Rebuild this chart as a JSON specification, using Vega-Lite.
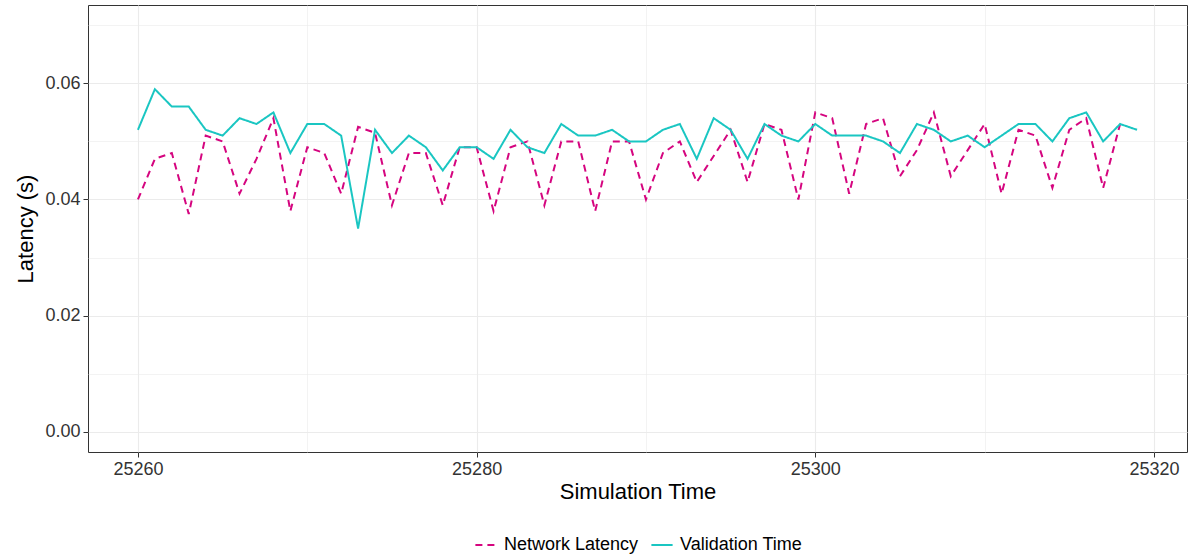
{
  "$schema": "https://vega.github.io/schema/vega-lite/v6.json",
  "width": 1099,
  "height": 447,
  "autosize": {"type": "none"},
  "padding": {"left": 88, "top": 5, "right": 2, "bottom": 104},
  "background": "white",
  "config": {
    "view": {"stroke": "#333333", "strokeWidth": 1},
    "font": "Liberation Sans",
    "axis": {
      "labelFont": "Liberation Sans",
      "titleFont": "Liberation Sans",
      "labelFontSize": 18,
      "labelColor": "#333333",
      "titleFontSize": 22,
      "titleFontWeight": "normal",
      "titleColor": "#000000",
      "domain": false,
      "tickSize": 5,
      "tickWidth": 1,
      "gridColor": "#EBEBEB"
    }
  },
  "data": {
    "values": [
      {"t": 25260, "series": "Network Latency", "v": 0.040},
      {"t": 25261, "series": "Network Latency", "v": 0.047},
      {"t": 25262, "series": "Network Latency", "v": 0.048},
      {"t": 25263, "series": "Network Latency", "v": 0.0375},
      {"t": 25264, "series": "Network Latency", "v": 0.051},
      {"t": 25265, "series": "Network Latency", "v": 0.050},
      {"t": 25266, "series": "Network Latency", "v": 0.041},
      {"t": 25267, "series": "Network Latency", "v": 0.047},
      {"t": 25268, "series": "Network Latency", "v": 0.054},
      {"t": 25269, "series": "Network Latency", "v": 0.038},
      {"t": 25270, "series": "Network Latency", "v": 0.049},
      {"t": 25271, "series": "Network Latency", "v": 0.048},
      {"t": 25272, "series": "Network Latency", "v": 0.041},
      {"t": 25273, "series": "Network Latency", "v": 0.0525},
      {"t": 25274, "series": "Network Latency", "v": 0.0515},
      {"t": 25275, "series": "Network Latency", "v": 0.039},
      {"t": 25276, "series": "Network Latency", "v": 0.048},
      {"t": 25277, "series": "Network Latency", "v": 0.048},
      {"t": 25278, "series": "Network Latency", "v": 0.039},
      {"t": 25279, "series": "Network Latency", "v": 0.049},
      {"t": 25280, "series": "Network Latency", "v": 0.049},
      {"t": 25281, "series": "Network Latency", "v": 0.038},
      {"t": 25282, "series": "Network Latency", "v": 0.049},
      {"t": 25283, "series": "Network Latency", "v": 0.050},
      {"t": 25284, "series": "Network Latency", "v": 0.039},
      {"t": 25285, "series": "Network Latency", "v": 0.050},
      {"t": 25286, "series": "Network Latency", "v": 0.050},
      {"t": 25287, "series": "Network Latency", "v": 0.038},
      {"t": 25288, "series": "Network Latency", "v": 0.050},
      {"t": 25289, "series": "Network Latency", "v": 0.050},
      {"t": 25290, "series": "Network Latency", "v": 0.040},
      {"t": 25291, "series": "Network Latency", "v": 0.048},
      {"t": 25292, "series": "Network Latency", "v": 0.050},
      {"t": 25293, "series": "Network Latency", "v": 0.043},
      {"t": 25294, "series": "Network Latency", "v": 0.0475},
      {"t": 25295, "series": "Network Latency", "v": 0.052},
      {"t": 25296, "series": "Network Latency", "v": 0.043},
      {"t": 25297, "series": "Network Latency", "v": 0.053},
      {"t": 25298, "series": "Network Latency", "v": 0.052},
      {"t": 25299, "series": "Network Latency", "v": 0.040},
      {"t": 25300, "series": "Network Latency", "v": 0.055},
      {"t": 25301, "series": "Network Latency", "v": 0.054},
      {"t": 25302, "series": "Network Latency", "v": 0.041},
      {"t": 25303, "series": "Network Latency", "v": 0.053},
      {"t": 25304, "series": "Network Latency", "v": 0.054},
      {"t": 25305, "series": "Network Latency", "v": 0.044},
      {"t": 25306, "series": "Network Latency", "v": 0.0485},
      {"t": 25307, "series": "Network Latency", "v": 0.055},
      {"t": 25308, "series": "Network Latency", "v": 0.044},
      {"t": 25309, "series": "Network Latency", "v": 0.0485},
      {"t": 25310, "series": "Network Latency", "v": 0.053},
      {"t": 25311, "series": "Network Latency", "v": 0.041},
      {"t": 25312, "series": "Network Latency", "v": 0.052},
      {"t": 25313, "series": "Network Latency", "v": 0.051},
      {"t": 25314, "series": "Network Latency", "v": 0.042},
      {"t": 25315, "series": "Network Latency", "v": 0.052},
      {"t": 25316, "series": "Network Latency", "v": 0.054},
      {"t": 25317, "series": "Network Latency", "v": 0.042},
      {"t": 25318, "series": "Network Latency", "v": 0.053},
      {"t": 25260, "series": "Validation Time", "v": 0.052},
      {"t": 25261, "series": "Validation Time", "v": 0.059},
      {"t": 25262, "series": "Validation Time", "v": 0.056},
      {"t": 25263, "series": "Validation Time", "v": 0.056},
      {"t": 25264, "series": "Validation Time", "v": 0.052},
      {"t": 25265, "series": "Validation Time", "v": 0.051},
      {"t": 25266, "series": "Validation Time", "v": 0.054},
      {"t": 25267, "series": "Validation Time", "v": 0.053},
      {"t": 25268, "series": "Validation Time", "v": 0.055},
      {"t": 25269, "series": "Validation Time", "v": 0.048},
      {"t": 25270, "series": "Validation Time", "v": 0.053},
      {"t": 25271, "series": "Validation Time", "v": 0.053},
      {"t": 25272, "series": "Validation Time", "v": 0.051},
      {"t": 25273, "series": "Validation Time", "v": 0.035},
      {"t": 25274, "series": "Validation Time", "v": 0.052},
      {"t": 25275, "series": "Validation Time", "v": 0.048},
      {"t": 25276, "series": "Validation Time", "v": 0.051},
      {"t": 25277, "series": "Validation Time", "v": 0.049},
      {"t": 25278, "series": "Validation Time", "v": 0.045},
      {"t": 25279, "series": "Validation Time", "v": 0.049},
      {"t": 25280, "series": "Validation Time", "v": 0.049},
      {"t": 25281, "series": "Validation Time", "v": 0.047},
      {"t": 25282, "series": "Validation Time", "v": 0.052},
      {"t": 25283, "series": "Validation Time", "v": 0.049},
      {"t": 25284, "series": "Validation Time", "v": 0.048},
      {"t": 25285, "series": "Validation Time", "v": 0.053},
      {"t": 25286, "series": "Validation Time", "v": 0.051},
      {"t": 25287, "series": "Validation Time", "v": 0.051},
      {"t": 25288, "series": "Validation Time", "v": 0.052},
      {"t": 25289, "series": "Validation Time", "v": 0.050},
      {"t": 25290, "series": "Validation Time", "v": 0.050},
      {"t": 25291, "series": "Validation Time", "v": 0.052},
      {"t": 25292, "series": "Validation Time", "v": 0.053},
      {"t": 25293, "series": "Validation Time", "v": 0.047},
      {"t": 25294, "series": "Validation Time", "v": 0.054},
      {"t": 25295, "series": "Validation Time", "v": 0.052},
      {"t": 25296, "series": "Validation Time", "v": 0.047},
      {"t": 25297, "series": "Validation Time", "v": 0.053},
      {"t": 25298, "series": "Validation Time", "v": 0.051},
      {"t": 25299, "series": "Validation Time", "v": 0.050},
      {"t": 25300, "series": "Validation Time", "v": 0.053},
      {"t": 25301, "series": "Validation Time", "v": 0.051},
      {"t": 25302, "series": "Validation Time", "v": 0.051},
      {"t": 25303, "series": "Validation Time", "v": 0.051},
      {"t": 25304, "series": "Validation Time", "v": 0.050},
      {"t": 25305, "series": "Validation Time", "v": 0.048},
      {"t": 25306, "series": "Validation Time", "v": 0.053},
      {"t": 25307, "series": "Validation Time", "v": 0.052},
      {"t": 25308, "series": "Validation Time", "v": 0.050},
      {"t": 25309, "series": "Validation Time", "v": 0.051},
      {"t": 25310, "series": "Validation Time", "v": 0.049},
      {"t": 25311, "series": "Validation Time", "v": 0.051},
      {"t": 25312, "series": "Validation Time", "v": 0.053},
      {"t": 25313, "series": "Validation Time", "v": 0.053},
      {"t": 25314, "series": "Validation Time", "v": 0.050},
      {"t": 25315, "series": "Validation Time", "v": 0.054},
      {"t": 25316, "series": "Validation Time", "v": 0.055},
      {"t": 25317, "series": "Validation Time", "v": 0.050},
      {"t": 25318, "series": "Validation Time", "v": 0.053},
      {"t": 25319, "series": "Validation Time", "v": 0.052}
    ]
  },
  "mark": {"type": "line", "strokeWidth": 2, "clip": true},
  "encoding": {
    "x": {
      "field": "t",
      "type": "quantitative",
      "scale": {"domain": [25257.05, 25321.95], "nice": false, "zero": false},
      "axis": {
        "title": "Simulation Time",
        "values": [25260, 25270, 25280, 25290, 25300, 25310, 25320],
        "labelExpr": "datum.value % 20 === 0 ? datum.value : ''",
        "tickColor": {"condition": {"test": "datum.value % 20 === 0", "value": "#333333"}, "value": "transparent"},
        "gridWidth": {"condition": {"test": "datum.value % 20 === 0", "value": 1.1}, "value": 0.6},
        "labelPadding": 3,
        "titlePadding": 3
      }
    },
    "y": {
      "field": "v",
      "type": "quantitative",
      "scale": {"domain": [-0.0035, 0.0735], "nice": false, "zero": false},
      "axis": {
        "title": "Latency (s)",
        "values": [0, 0.01, 0.02, 0.03, 0.04, 0.05, 0.06, 0.07],
        "labelExpr": "round(datum.value * 100) % 2 === 0 ? format(datum.value, '.2f') : ''",
        "tickColor": {"condition": {"test": "round(datum.value * 100) % 2 === 0", "value": "#333333"}, "value": "transparent"},
        "gridWidth": {"condition": {"test": "round(datum.value * 100) % 2 === 0", "value": 1.1}, "value": 0.6},
        "labelPadding": 3,
        "titlePadding": 7
      }
    },
    "color": {
      "field": "series",
      "type": "nominal",
      "scale": {"domain": ["Network Latency", "Validation Time"], "range": ["#D5057F", "#1AC6C2"]},
      "legend": {
        "title": null,
        "orient": "none",
        "direction": "horizontal",
        "legendX": 386,
        "legendY": 528,
        "labelFontSize": 18,
        "labelFont": "Liberation Sans",
        "labelColor": "#000000",
        "symbolType": "stroke",
        "symbolStrokeWidth": 2,
        "symbolSize": 450,
        "columnPadding": 8,
        "labelOffset": 6
      }
    },
    "strokeDash": {
      "field": "series",
      "type": "nominal",
      "scale": {"domain": ["Network Latency", "Validation Time"], "range": [[7, 5], [1, 0]]},
      "legend": {
        "title": null,
        "orient": "none",
        "direction": "horizontal",
        "legendX": 386,
        "legendY": 528,
        "labelFontSize": 18,
        "labelFont": "Liberation Sans",
        "labelColor": "#000000",
        "symbolType": "stroke",
        "symbolStrokeWidth": 2,
        "symbolSize": 450,
        "columnPadding": 8,
        "labelOffset": 6
      }
    }
  }
}
